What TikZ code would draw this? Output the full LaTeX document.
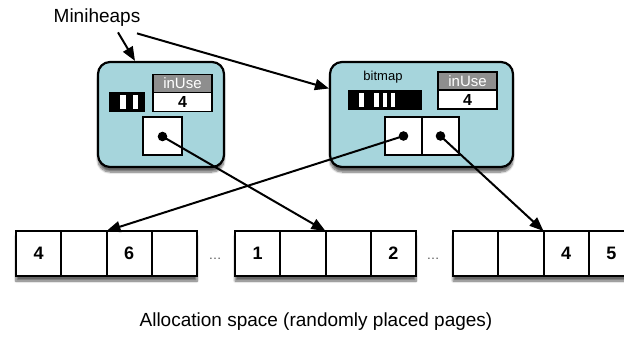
\documentclass[tikz,border=0pt]{standalone}
\usepackage{fontspec}
\setmainfont{Liberation Sans}
\usetikzlibrary{arrows.meta, positioning, shadows.blur}
\definecolor{mh_teal}{RGB}{166, 213, 220}
\definecolor{mh_grey}{RGB}{142, 142, 142}
\definecolor{mh_dots}{RGB}{80, 80, 80}

\begin{document}
\begin{tikzpicture}[x=1pt, y=-1pt,
    softshadow/.style={blur shadow={shadow xshift=0pt, shadow yshift=-5pt,
                       shadow blur steps=8, shadow opacity=60}},
    heapbox/.style={rectangle, rounded corners=12pt, draw, line width=2.2pt,
                    fill=mh_teal, inner sep=0pt, softshadow},
    bitbar/.style={rectangle, fill=black, inner sep=0pt, minimum height=20pt},
    usehead/.style={rectangle, draw, line width=1.8pt, fill=mh_grey, text=white,
                    inner sep=0pt, outer sep=0pt, minimum width=59pt, minimum height=18pt,
                    font=\fontsize{15}{17}\selectfont},
    useval/.style={rectangle, draw, line width=1.8pt, fill=white, inner sep=0pt,
                   outer sep=0pt, minimum width=59pt, minimum height=19pt,
                   font=\fontsize{16}{18}\selectfont\bfseries},
    ptrcell/.style={rectangle, draw, line width=2pt, fill=white, inner sep=0pt,
                    outer sep=0pt, minimum height=38pt},
    strip/.style={rectangle, fill=white, inner sep=0pt, minimum width=181pt,
                  minimum height=45pt, softshadow},
    pagecell/.style={rectangle, draw, line width=2pt, fill=white, inner sep=0pt,
                     outer sep=0pt, minimum width=45.25pt, minimum height=45pt,
                     font=\fontsize{18}{20}\selectfont\bfseries},
    ptr/.style={-{Triangle[length=14pt, width=11pt]}, line width=2pt},
    heading/.style={font=\fontsize{19}{22}\selectfont},
  ]
  \useasboundingbox (0,0) rectangle (624,339);

  \node[heading] (mhlabel) at (97,18) {Miniheaps};

  % miniheaps
  \node[heapbox, minimum width=126pt, minimum height=105pt] (heapL) at (161,114.5) {};
  \node[heapbox, minimum width=183pt, minimum height=105pt] (heapR) at (421.5,114.5) {};

  % bitmaps
  \node[bitbar, minimum width=36pt] (bitsL) at (127,102) {};
  \foreach \sx/\ex in {120/126, 133/138}
    \fill[white] (\sx,95) rectangle (\ex,109);
  \node[font=\fontsize{13}{15}\selectfont] (bitmapR) at (383,77) {bitmap};
  \node[bitbar, minimum width=74pt] (bitsR) at (385,100) {};
  \foreach \sx/\ex in {359/364, 374/379, 383/387, 391/395}
    \fill[white] (\sx,93) rectangle (\ex,107);

  % inUse counters
  \node[usehead] (useL) at (182.5,83.5) {inUse};
  \node[useval, below=0pt of useL] (valL) {4};
  \node[usehead] (useR) at (467.5,81) {inUse};
  \node[useval, below=0pt of useR] (valR) {4};

  % page pointers
  \node[ptrcell, minimum width=39pt] (ptrL) at (162.5,136.5) {};
  \node[ptrcell, minimum width=37pt] (ptrRa) at (403.5,136) {};
  \node[ptrcell, minimum width=37pt, right=0pt of ptrRa] (ptrRb) {};
  \foreach \p in {ptrL, ptrRa, ptrRb}
    \fill (\p.center) circle (4.8pt);

  % allocation space
  \foreach \g/\gx in {a/16, b/235, c/453}
    \node[strip] (strip\g) at (\gx+90.5,253.5) {};
  \foreach \g/\gx/\i/\lbl in {a/16/1/4, a/16/2/{}, a/16/3/6, a/16/4/{},
                              b/235/1/1, b/235/2/{}, b/235/3/{}, b/235/4/2,
                              c/453/1/{}, c/453/2/{}, c/453/3/4, c/453/4/5}
    \node[pagecell] (p\g\i) at ({\gx+45.25*(\i-0.5)},253.5) {\lbl};
  \node[mh_dots, font=\fontsize{13}{15}\selectfont] (gapA) at (215,259) {\dots};
  \node[mh_dots, font=\fontsize{13}{15}\selectfont] (gapB) at (433,259) {\dots};

  \node[heading] (caption) at (316,322) {Allocation space (randomly placed pages)};

  % arrows
  \draw[ptr] ([xshift=21pt, yshift=-2pt]mhlabel.south) -- ([xshift=-26pt]heapL.north);
  \draw[ptr] ([xshift=40pt, yshift=-3pt]mhlabel.south) -- ([yshift=26pt]heapR.west);
  \draw[ptr] (ptrL.center) -- (pb2.north east);
  \draw[ptr] (ptrRa.center) -- (pa2.north east);
  \draw[ptr] (ptrRb.center) -- (pc2.north east);
\end{tikzpicture}
\end{document}
